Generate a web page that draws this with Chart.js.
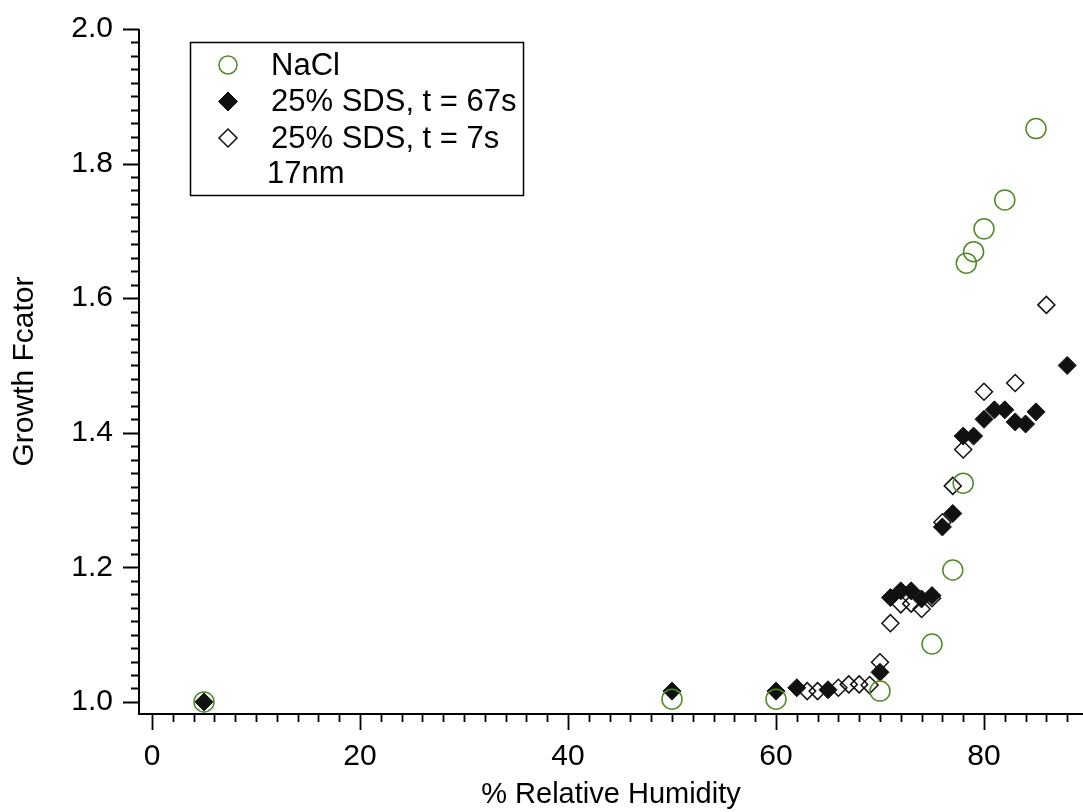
<!DOCTYPE html>
<html><head><meta charset="utf-8">
<script src="https://cdn.jsdelivr.net/npm/chart.js@4.4.0/dist/chart.umd.min.js"></script>
<style>html,body{margin:0;padding:0;background:#fff;} #wrap{width:1083px;height:812px;}</style>
</head><body><div id="wrap"><canvas id="c" width="1083" height="812"></canvas></div>
<script>
// ---- data ----
const xTickValues = [0, 20, 40, 60, 80];
const yTickValues = [1.0, 1.2, 1.4, 1.6, 1.8, 2.0];
const xMinorStep = 2;
const yMinorStep = 0.02;

const seriesNames = ['NaCl', '25% SDS, t = 67s', '25% SDS, t = 7s'];
const legendNote = '17nm';

const naclRH = [5, 50, 60, 70, 75, 77, 78, 78.3, 79, 80, 82, 85];
const naclGF = [1.0, 1.004, 1.004, 1.016, 1.086, 1.196, 1.325, 1.652, 1.669, 1.703, 1.746, 1.852];

const sds67RH = [5, 50, 60, 62, 65, 70, 71, 72, 73, 74, 75, 76, 77, 78, 79, 80, 81, 82, 83, 84, 85, 88];
const sds67GF = [1.0, 1.016, 1.016, 1.021, 1.018, 1.044, 1.155, 1.165, 1.165, 1.153, 1.158, 1.26, 1.28, 1.395, 1.395, 1.42, 1.434, 1.434, 1.416, 1.413, 1.431, 1.50];

const sds7RH = [63, 64, 66, 67, 68, 69, 70, 71, 72, 73, 74, 75, 76, 77, 78, 80, 83, 86];
const sds7GF = [1.016, 1.016, 1.021, 1.026, 1.026, 1.025, 1.059, 1.117, 1.145, 1.146, 1.138, 1.154, 1.267, 1.321, 1.375, 1.461, 1.474, 1.59];

const toPts = (xs, ys) => xs.map((x, i) => ({x: x, y: ys[i]}));

const FONT = '"Liberation Sans", Arial, Helvetica, sans-serif';
const GREEN = '#4f8a24';

const axesPlugin = {
  id: 'axesTicks',
  beforeDatasetsDraw(chart) {
    const ctx = chart.ctx, xs = chart.scales.x, ys = chart.scales.y, a = chart.chartArea;
    ctx.save();
    ctx.strokeStyle = '#000';
    ctx.lineWidth = 2;
    ctx.beginPath();
    ctx.moveTo(a.left, ys.getPixelForValue(2.0));
    ctx.lineTo(a.left, a.bottom);
    ctx.lineTo(a.right, a.bottom);
    ctx.stroke();
    ctx.lineWidth = 1.8;
    ctx.beginPath();
    for (let v = 0; v <= xs.max + 1e-9; v += xMinorStep) {
      const px = Math.round(xs.getPixelForValue(v)) + 0.5;
      const major = xTickValues.some(t => Math.abs(t - v) < 1e-6);
      ctx.moveTo(px, a.bottom);
      ctx.lineTo(px, a.bottom + (major ? 16 : 8));
    }
    for (let k = 0; ; k++) {
      const v = 1.0 + k * yMinorStep;
      if (v > 2.0 + 1e-9) break;
      const py = Math.round(ys.getPixelForValue(v)) + 0.5;
      const major = yTickValues.some(t => Math.abs(t - v) < 1e-6);
      ctx.moveTo(a.left, py);
      ctx.lineTo(a.left - (major ? 16 : 8), py);
    }
    ctx.stroke();
    ctx.restore();
  }
};

function drawMarker(ctx, style, r, x, y) {
  ctx.beginPath();
  if (style === 'circle') {
    ctx.arc(x, y, r, 0, Math.PI * 2);
  } else {
    ctx.moveTo(x, y - r); ctx.lineTo(x + r, y); ctx.lineTo(x, y + r); ctx.lineTo(x - r, y); ctx.closePath();
  }
  ctx.fill();
  ctx.stroke();
}

const legendPlugin = {
  id: 'boxLegend',
  afterDraw(chart) {
    const ctx = chart.ctx;
    ctx.save();
    ctx.strokeStyle = '#000';
    ctx.lineWidth = 1.5;
    ctx.strokeRect(190.5, 42.5, 333, 153);
    const rows = [65, 101.5, 138, 173];
    const radii = [9, 9.5, 9];
    chart.data.datasets.forEach((ds, i) => {
      ctx.fillStyle = ds.backgroundColor;
      ctx.strokeStyle = ds.borderColor;
      ctx.lineWidth = ds.borderWidth;
      drawMarker(ctx, ds.pointStyle, radii[i], 228, rows[i]);
      ctx.fillStyle = '#000';
      ctx.font = '31px ' + FONT;
      ctx.textBaseline = 'middle';
      ctx.textAlign = 'left';
      ctx.fillText(ds.label, 271, rows[i] + 1);
    });
    ctx.fillStyle = '#000';
    ctx.font = '31px ' + FONT;
    ctx.textBaseline = 'middle';
    ctx.fillText(legendNote, 267, rows[3] + 1);
    ctx.restore();
  }
};

function zeroPad(s) { s.paddingTop = 0; s.paddingBottom = 0; s.paddingLeft = 0; s.paddingRight = 0; }

new Chart(document.getElementById('c'), {
  type: 'scatter',
  data: {
    datasets: [
      {label: seriesNames[0], data: toPts(naclRH, naclGF), pointStyle: 'circle', pointRadius: 10,
       backgroundColor: 'rgba(0,0,0,0)', borderColor: GREEN, borderWidth: 1.5, clip: false},
      {label: seriesNames[1], data: toPts(sds67RH, sds67GF), pointStyle: 'rectRot', pointRadius: 9,
       backgroundColor: '#111', borderColor: '#111', borderWidth: 1, clip: false},
      {label: seriesNames[2], data: toPts(sds7RH, sds7GF), pointStyle: 'rectRot', pointRadius: 8.5,
       backgroundColor: 'rgba(0,0,0,0)', borderColor: '#111', borderWidth: 1.5, clip: false}
    ]
  },
  options: {
    responsive: false,
    animation: false,
    events: [],
    layout: {padding: {top: 29, right: 0, left: 0, bottom: 0}, autoPadding: false},
    plugins: {legend: {display: false}, tooltip: {enabled: false}},
    scales: {
      x: {
        type: 'linear', min: -1.25, max: 89.52,
        border: {display: false},
        grid: {display: false, drawTicks: false},
        afterBuildTicks: s => { s.ticks = xTickValues.map(v => ({value: v})); },
        afterFit: s => { s.height = 98; zeroPad(s); },
        ticks: {color: '#000', font: {family: FONT, size: 30}, padding: 25, maxRotation: 0,
                callback: v => String(v)},
        title: {display: true, text: '% Relative Humidity', color: '#000',
                font: {family: FONT, size: 29}, padding: {top: 0, bottom: 0}}
      },
      y: {
        type: 'linear', min: 0.982, max: 2.0,
        border: {display: false},
        grid: {display: false, drawTicks: false},
        afterBuildTicks: s => { s.ticks = yTickValues.map(v => ({value: v})); },
        afterFit: s => { s.width = 139; zeroPad(s); },
        ticks: {color: '#000', font: {family: FONT, size: 30}, padding: 26,
                callback: v => Number(v).toFixed(1)},
        title: {display: true, text: 'Growth Fcator', color: '#000',
                font: {family: FONT, size: 30}, padding: {top: 7, bottom: 0}}
      }
    }
  },
  plugins: [axesPlugin, legendPlugin]
});
</script>
</body></html>
